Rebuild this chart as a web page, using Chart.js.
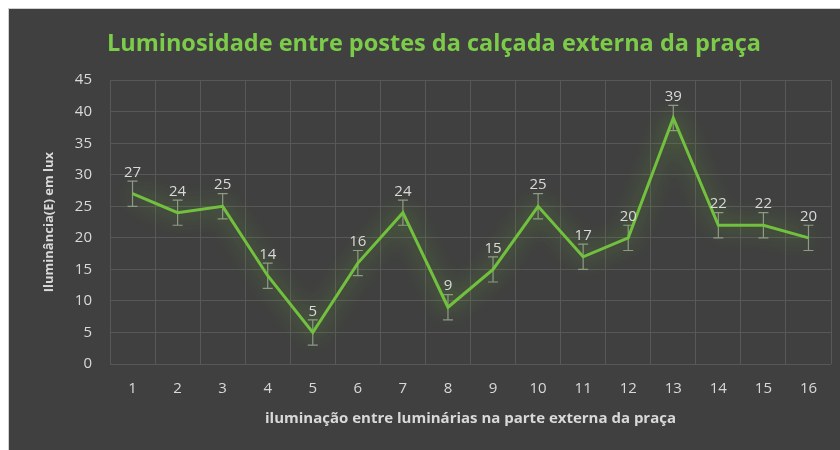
<!DOCTYPE html>
<html>
<head>
<meta charset="utf-8">
<script src="https://cdn.jsdelivr.net/npm/chart.js@4/dist/chart.umd.min.js"></script>
<style>
  body { margin: 0; background: #ffffff; }
  #wrap { position: absolute; left: 8px; top: 8px; width: 832px; height: 442px; background: #404040; border-left: 1px solid #cfcfcf; border-top: 1px solid #cfcfcf; }
</style>
</head>
<body>
<div id="wrap"><canvas id="chart"></canvas></div>
<script>
const labels = ['1', '2', '3', '4', '5', '6', '7', '8', '9', '10', '11', '12', '13', '14', '15', '16'];
const luxValues = [27, 24, 25, 14, 5, 16, 24, 9, 15, 25, 17, 20, 39, 22, 22, 20];
const errorValues = [2, 2, 2, 2, 2, 2, 2, 2, 2, 2, 2, 2, 2, 2, 2, 2];

const textColor = '#d9d9d9';
const fontName = '"Open Sans", "DejaVu Sans", sans-serif';

// soft green glow under the line
const glowPlugin = {
    id: 'glow',
    beforeDatasetDraw(chart) {
        const ctx = chart.ctx;
        ctx.save();
        ctx.shadowColor = 'rgba(110, 190, 50, 0.9)';
        ctx.shadowBlur = 22;
    },
    afterDatasetDraw(chart) {
        chart.ctx.restore();
    }
};

// fixed error bars, drawn behind the line
const errorBarPlugin = {
    id: 'errorBars',
    beforeDatasetsDraw(chart) {
        const ctx = chart.ctx;
        const x = chart.scales.x;
        const y = chart.scales.y;
        ctx.save();
        ctx.strokeStyle = '#8f9a88';
        ctx.lineWidth = 1.2;
        luxValues.forEach((value, index) => {
            const px = x.getPixelForValue(index);
            const top = y.getPixelForValue(value + errorValues[index]);
            const bottom = y.getPixelForValue(value - errorValues[index]);
            ctx.beginPath();
            ctx.moveTo(px, top);
            ctx.lineTo(px, bottom);
            ctx.moveTo(px - 5, top);
            ctx.lineTo(px + 5, top);
            ctx.moveTo(px - 5, bottom);
            ctx.lineTo(px + 5, bottom);
            ctx.stroke();
        });
        ctx.restore();
    }
};

const valueLabelPlugin = {
    id: 'valueLabels',
    afterDatasetsDraw(chart) {
        const ctx = chart.ctx;
        const x = chart.scales.x;
        const y = chart.scales.y;
        ctx.save();
        ctx.fillStyle = textColor;
        ctx.font = '15px ' + fontName;
        ctx.textAlign = 'center';
        ctx.textBaseline = 'bottom';
        luxValues.forEach((value, index) => {
            const px = x.getPixelForValue(index);
            const top = y.getPixelForValue(value + errorValues[index]);
            ctx.fillText(String(value), px, top - 1);
        });
        ctx.restore();
    }
};

new Chart(document.getElementById('chart'), {
    type: 'line',
    data: {
        labels: labels,
        datasets: [{
            data: luxValues,
            borderColor: '#72c13e',
            borderWidth: 3,
            pointRadius: 0,
            tension: 0,
            fill: false
        }]
    },
    options: {
        responsive: true,
        maintainAspectRatio: false,
        animation: false,
        layout: { padding: { left: 28, right: 10, top: 6, bottom: 0 } },
        plugins: {
            legend: { display: false },
            tooltip: { enabled: false },
            title: {
                display: true,
                text: 'Luminosidade entre postes da calçada externa da praça',
                color: '#7ccc4a',
                font: { family: fontName, size: 23.5, weight: 'bold' },
                padding: { top: 15, bottom: 22 }
            }
        },
        scales: {
            x: {
                offset: true,
                afterFit(scale) { scale.height = 87; },
                grid: { offset: true, color: '#585858', lineWidth: 1, drawTicks: false },
                border: { display: false },
                ticks: { color: textColor, font: { family: fontName, size: 15 }, padding: 16, maxRotation: 0 },
                title: {
                    display: true,
                    text: 'iluminação entre luminárias na parte externa da praça',
                    color: textColor,
                    font: { family: fontName, size: 15, weight: 'bold' },
                    padding: { top: 8, bottom: 23 }
                }
            },
            y: {
                min: 0,
                max: 45,
                afterFit(scale) { scale.width = 73; },
                ticks: { stepSize: 5, color: textColor, font: { family: fontName, size: 15 }, padding: 18 },
                grid: { color: '#585858', lineWidth: 1, drawTicks: false },
                border: { display: false },
                title: {
                    display: true,
                    text: 'Iluminância(E) em lux',
                    color: textColor,
                    font: { family: fontName, size: 13, weight: 'bold' },
                    padding: { top: 4, bottom: 4 }
                }
            }
        }
    },
    plugins: [errorBarPlugin, glowPlugin, valueLabelPlugin]
});
</script>
</body>
</html>
